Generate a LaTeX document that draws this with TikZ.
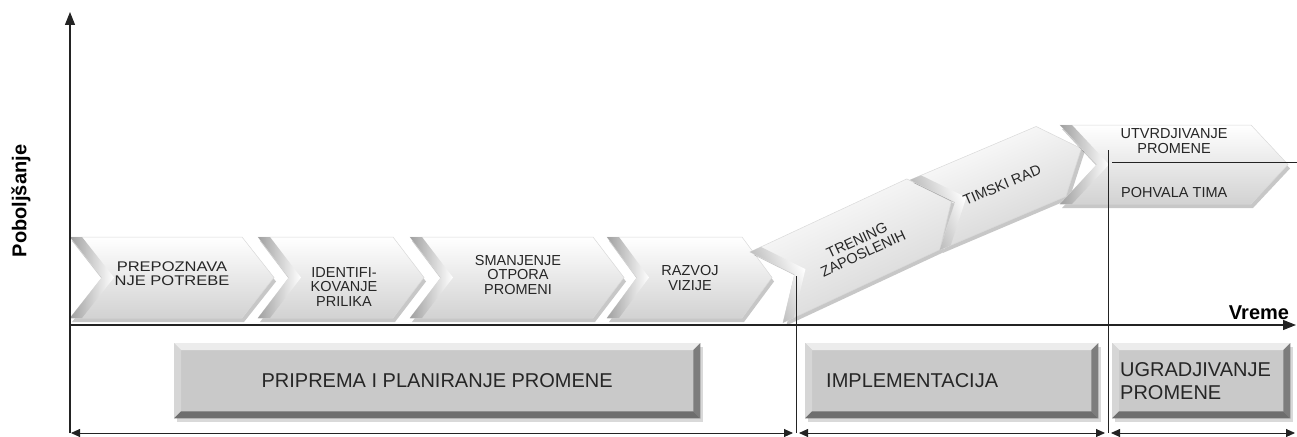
\documentclass[tikz,border=0pt]{standalone}
\usepackage{fontspec}
\setmainfont{Liberation Sans}
\newfontfamily\widesans[FakeStretch=1.18]{Liberation Sans}
\usetikzlibrary{arrows.meta,shadows,calc}

\definecolor{boxface}{RGB}{201,201,201}
\definecolor{bevtop}{RGB}{236,236,236}
\definecolor{bevleft}{RGB}{214,214,214}
\definecolor{bevright}{RGB}{125,125,125}
\definecolor{bevbottom}{RGB}{110,110,110}
\definecolor{chevlow}{RGB}{210,210,210}
\definecolor{notchgray}{RGB}{160,160,160}
\definecolor{axisgray}{RGB}{35,35,35}

\tikzset{
  axisline/.style={line width=1.1pt, draw=axisgray},
  bigtip/.style={-{Triangle[length=13pt,width=10pt]}},
  span/.style={line width=0.9pt, draw=axisgray,
    {Triangle[length=9pt,width=8pt]}-{Triangle[length=9pt,width=8pt]}},
  divider/.style={line width=0.9pt, draw=axisgray},
  chevtext/.style={align=center, font=\fontsize{14.5}{14.5}\selectfont,
    text=black!85, inner sep=0pt},
  phasebox/.style={fill=boxface, font=\fontsize{20}{23}\selectfont,
    text=black!85, minimum height=75pt, anchor=north west,
    drop shadow={shadow xshift=3pt, shadow yshift=-4pt, opacity=.3}},
  axislabel/.style={font=\bfseries\fontsize{20}{22}\selectfont, inner sep=0pt},
  % chevron: tip length / height / notch depth / shading angle
  pics/chevron/.style args={#1/#2/#3/#4}{
    code={
      \path[fill=black, opacity=0.22]
        (2,4) -- (#1-#3+2,4) -- (#1+2,#2/2+4) -- (#1-#3+2,#2+4)
        -- (2,#2+4) -- (#3+2,#2/2+4) -- cycle;
      \path[top color=white, bottom color=chevlow, shading angle=#4,
            draw=gray!30, line width=0.5pt]
        (0,0) -- (#1-#3,0) -- (#1,#2/2) -- (#1-#3,#2) -- (0,#2)
        -- (#3,#2/2) -- cycle;
      \path[left color=notchgray, right color=white, shading angle=90+#4]
        (0,0) -- (#3,#2/2) -- (0,#2) -- (12,#2) -- (#3+12,#2/2)
        -- (12,0) -- cycle;
    }}
}

\newcommand\bevelframe[1]{%
  \fill[bevtop] (#1.north west) -- (#1.north east)
    -- ($(#1.north east)+(-7,7)$) -- ($(#1.north west)+(7,7)$) -- cycle;
  \fill[bevleft] (#1.north west) -- ($(#1.north west)+(7,7)$)
    -- ($(#1.south west)+(7,-7)$) -- (#1.south west) -- cycle;
  \fill[bevright] (#1.north east) -- ($(#1.north east)+(-7,7)$)
    -- ($(#1.south east)+(-7,-7)$) -- (#1.south east) -- cycle;
  \fill[bevbottom] (#1.south west) -- ($(#1.south west)+(7,-7)$)
    -- ($(#1.south east)+(-7,-7)$) -- (#1.south east) -- cycle;
}

\begin{document}
\begin{tikzpicture}[x=1pt, y=-1pt]
\useasboundingbox (0,0) rectangle (1297,436);

% process chevrons along the time line
\pic at (70,237)  {chevron=204/81/32/0};
\pic at (258,237) {chevron=166/81/31/0};
\pic at (410,237) {chevron=214/81/31/0};
\pic at (607,237) {chevron=165/81/30/0};
\pic[rotate=25] at (750,252) {chevron=204/78/31/25};
\pic[rotate=23] at (910,180) {chevron=170/76/33/23};
\pic at (1060,125) {chevron=228/79/37/0};

\node[chevtext, font=\widesans\fontsize{14}{14}\selectfont] (c1) at (172,274) {PREPOZNAVA\\NJE POTREBE};
\node[chevtext] (c2) at (344,287) {IDENTIFI-\\KOVANJE\\PRILIKA};
\node[chevtext] (c3) at (518,275) {SMANJENJE\\OTPORA\\PROMENI};
\node[chevtext] (c4) at (690,278) {RAZVOJ\\VIZIJE};
\node[chevtext, rotate=25] (c5) at (860,247) {TRENING\\ZAPOSLENIH};
\node[chevtext, rotate=23] (c6) at (1002,185) {TIMSKI RAD};
\node[chevtext] (c7a) at (1174,141) {UTVRDJIVANJE\\PROMENE};
\node[chevtext, anchor=west] (c7b) at (1121,193) {POHVALA TIMA};

% phase boxes
\node[phasebox, minimum width=526pt] (p1) at (174,343) {PRIPREMA I PLANIRANJE PROMENE};
\node[phasebox, minimum width=293pt, text width=251pt, inner xsep=21pt, align=left] (p2) at (805,343) {IMPLEMENTACIJA};
\node[phasebox, minimum width=178pt, text width=162pt, inner xsep=8pt, align=left] (p3) at (1112,343) {UGRADJIVANJE\\PROMENE};
\bevelframe{p1}
\bevelframe{p2}
\bevelframe{p3}

% axes
\coordinate (ytop) at (70,12);
\coordinate (ybot) at (70,433);
\coordinate (xo) at (70,325);
\coordinate (xend) at (1296,325);
\draw[axisline, bigtip] (ybot) -- (ytop);
\draw[axisline, bigtip] (xo) -- (xend);
\node[axislabel, rotate=90] (ylab) at (21,201) {Poboljšanje};
\node[axislabel] (xlab) at (1259,313) {Vreme};

% phase dividers and spans
\coordinate (d1t) at (796,276);
\coordinate (d1b) at (796,433);
\coordinate (d2t) at (1108,150);
\coordinate (d2b) at (1108,433);
\coordinate (h1) at (1112,162);
\coordinate (h2) at (1297,162);
\draw[divider] (d1t) -- (d1b);
\draw[divider] (d2t) -- (d2b);
\draw[divider] (h1) -- (h2);

\coordinate (s1a) at (71,433);
\coordinate (s1b) at (793,433);
\coordinate (s2a) at (799,433);
\coordinate (s2b) at (1105,433);
\coordinate (s3a) at (1111,433);
\coordinate (s3b) at (1295,433);
\draw[span] (s1a) -- (s1b);
\draw[span] (s2a) -- (s2b);
\draw[span] (s3a) -- (s3b);
\end{tikzpicture}
\end{document}
